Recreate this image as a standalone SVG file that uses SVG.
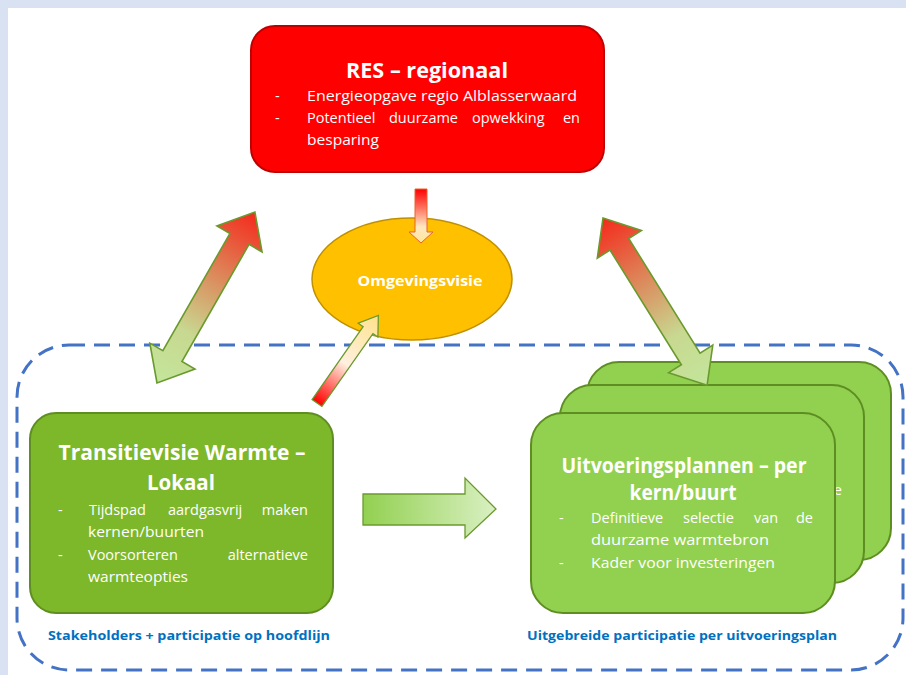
<svg xmlns="http://www.w3.org/2000/svg" width="906" height="675" viewBox="0 0 906 675">
<defs>
  <linearGradient id="gLeft" gradientUnits="userSpaceOnUse" x1="0" y1="0" x2="197" y2="0">
    <stop offset="0" stop-color="#C3E69B"/>
    <stop offset="0.3" stop-color="#C8D890"/>
    <stop offset="0.62" stop-color="#DC8A5C"/>
    <stop offset="1" stop-color="#F42A1C"/>
  </linearGradient>
  <linearGradient id="gRight" gradientUnits="userSpaceOnUse" x1="0" y1="0" x2="197" y2="0">
    <stop offset="0" stop-color="#F42A1C"/>
    <stop offset="0.38" stop-color="#DC8A5C"/>
    <stop offset="0.7" stop-color="#C8D890"/>
    <stop offset="1" stop-color="#C3E69B"/>
  </linearGradient>
  <linearGradient id="gDown" x1="0" y1="0" x2="0" y2="1">
    <stop offset="0" stop-color="#FF0000"/>
    <stop offset="0.7" stop-color="#FFE8C0"/>
    <stop offset="1" stop-color="#FFE699"/>
  </linearGradient>
  <linearGradient id="gDiag" gradientUnits="userSpaceOnUse" x1="0" y1="0" x2="107" y2="0">
    <stop offset="0" stop-color="#FF0000"/>
    <stop offset="0.45" stop-color="#FFF0E0"/>
    <stop offset="1" stop-color="#FFE28A"/>
  </linearGradient>
  <linearGradient id="gRightArrow" x1="0" y1="0" x2="1" y2="0">
    <stop offset="0" stop-color="#92D050"/>
    <stop offset="1" stop-color="#D9F0C2"/>
  </linearGradient>
  <path id="dbl" d="M0,0 L31,-26 L31,-11 L166,-11 L166,-26 L197,0 L166,26 L166,11 L31,11 L31,26 Z"/>
  <style>
    .t { font-family: "Open Sans", Lato, "Liberation Sans", sans-serif; fill: #FFFFFF; }
    .ttl { font-weight: 700; font-size: 21px; text-anchor: middle; }
    .bd { font-size: 14.5px; }
    .cap { font-family: "Open Sans", Lato, "Liberation Sans", sans-serif; font-weight: 700; font-size: 12.5px; fill: #0070C0; }
    .gbox { fill: #92D050; stroke: #5E8E21; stroke-width: 2; }
  </style>
</defs>

<rect x="0" y="0" width="906" height="675" fill="#D9E2F3"/>
<rect x="8" y="8" width="898" height="667" fill="#FFFFFF"/>

<rect id="zone" x="17" y="345" width="886" height="325" rx="52" ry="52" fill="none" stroke="#4472C4" stroke-width="3" stroke-dasharray="16 9"/>

<g id="res">
  <rect x="251" y="26" width="353" height="146" rx="24" ry="24" fill="#FF0000" stroke="#C00000" stroke-width="2"/>
  <text class="t ttl" x="427" y="78" textLength="162" lengthAdjust="spacingAndGlyphs">RES – regionaal</text>
  <text class="t bd" x="275" y="101">-</text>
  <text class="t bd" x="307" y="101" textLength="270" lengthAdjust="spacingAndGlyphs">Energieopgave regio Alblasserwaard</text>
  <text class="t bd" x="275" y="123">-</text>
  <text class="t bd" y="123"><tspan x="307">Potentieel</tspan><tspan x="389">duurzame</tspan><tspan x="472">opwekking</tspan><tspan x="580" text-anchor="end">en</tspan></text>
  <text class="t bd" x="307" y="145" textLength="72" lengthAdjust="spacingAndGlyphs">besparing</text>
</g>

<g id="omgevingsvisie">
  <ellipse cx="412" cy="279" rx="100" ry="61" fill="#FFC000" stroke="#BF9000" stroke-width="1.5"/>
  <text class="t" x="420" y="286" font-weight="700" font-size="14" text-anchor="middle" textLength="125" lengthAdjust="spacingAndGlyphs">Omgevingsvisie</text>
</g>

<g id="uitvoering-back">
  <rect class="gbox" x="587" y="362" width="304" height="198" rx="32" ry="32"/>
</g>
<g id="uitvoering-middle">
  <rect class="gbox" x="560" y="385" width="304" height="198" rx="32" ry="32"/>
  <text class="t bd" x="842" y="495" text-anchor="end">e</text>
</g>

<g id="connectors">
  <use href="#dbl" transform="translate(157,383) rotate(-60.2)" fill="url(#gLeft)" stroke="#6A9A2E" stroke-width="1.6"/>
  <use href="#dbl" transform="translate(603,218) rotate(58.1)" fill="url(#gRight)" stroke="#6A9A2E" stroke-width="1.6"/>
  <path d="M415,189 L427,189 L427,232 L433,232 L421,243 L409,232 L415,232 Z" fill="url(#gDown)" stroke="#E8622A" stroke-width="1"/>
  <path transform="translate(317,403) rotate(-55)" d="M0,-6 L89,-6 L89,-12 L107,0 L89,12 L89,6 L0,6 Z" fill="url(#gDiag)" stroke="#6A9A2E" stroke-width="1.3"/>
  <path d="M363,494 L465,494 L465,478 L496,509 L465,538 L465,525 L363,525 Z" fill="url(#gRightArrow)" stroke="#6A9A2E" stroke-width="1.3"/>
</g>

<g id="transitievisie">
  <rect x="30" y="413" width="303" height="200" rx="26" ry="26" fill="#7DB72A" stroke="#5E8E21" stroke-width="2"/>
  <text class="t ttl" x="182" y="460" textLength="247" lengthAdjust="spacingAndGlyphs">Transitievisie Warmte –</text>
  <text class="t ttl" x="181" y="490" textLength="68" lengthAdjust="spacingAndGlyphs">Lokaal</text>
  <text class="t bd" x="58" y="515">-</text>
  <text class="t bd" y="515"><tspan x="89">Tijdspad</tspan><tspan x="168">aardgasvrij</tspan><tspan x="308" text-anchor="end">maken</tspan></text>
  <text class="t bd" x="88" y="537" textLength="116" lengthAdjust="spacingAndGlyphs">kernen/buurten</text>
  <text class="t bd" x="58" y="560">-</text>
  <text class="t bd" y="560"><tspan x="88">Voorsorteren</tspan><tspan x="308" text-anchor="end">alternatieve</tspan></text>
  <text class="t bd" x="88" y="582" textLength="100" lengthAdjust="spacingAndGlyphs">warmteopties</text>
</g>

<g id="uitvoering-front">
  <rect class="gbox" x="531" y="413" width="304" height="200" rx="32" ry="32"/>
  <text class="t ttl" x="684" y="473" textLength="245" lengthAdjust="spacingAndGlyphs">Uitvoeringsplannen – per</text>
  <text class="t ttl" x="683" y="500" textLength="107" lengthAdjust="spacingAndGlyphs">kern/buurt</text>
  <text class="t bd" x="559" y="523">-</text>
  <text class="t bd" y="523"><tspan x="591">Definitieve</tspan><tspan x="683">selectie</tspan><tspan x="754">van</tspan><tspan x="813" text-anchor="end">de</tspan></text>
  <text class="t bd" x="591" y="545" textLength="178" lengthAdjust="spacingAndGlyphs">duurzame warmtebron</text>
  <text class="t bd" x="559" y="568">-</text>
  <text class="t bd" x="591" y="568" textLength="184" lengthAdjust="spacingAndGlyphs">Kader voor investeringen</text>
</g>

<g id="captions">
  <text class="cap" x="48" y="640" textLength="282" lengthAdjust="spacingAndGlyphs">Stakeholders + participatie op hoofdlijn</text>
  <text class="cap" x="527" y="640" textLength="310" lengthAdjust="spacingAndGlyphs">Uitgebreide participatie per uitvoeringsplan</text>
</g>
</svg>
